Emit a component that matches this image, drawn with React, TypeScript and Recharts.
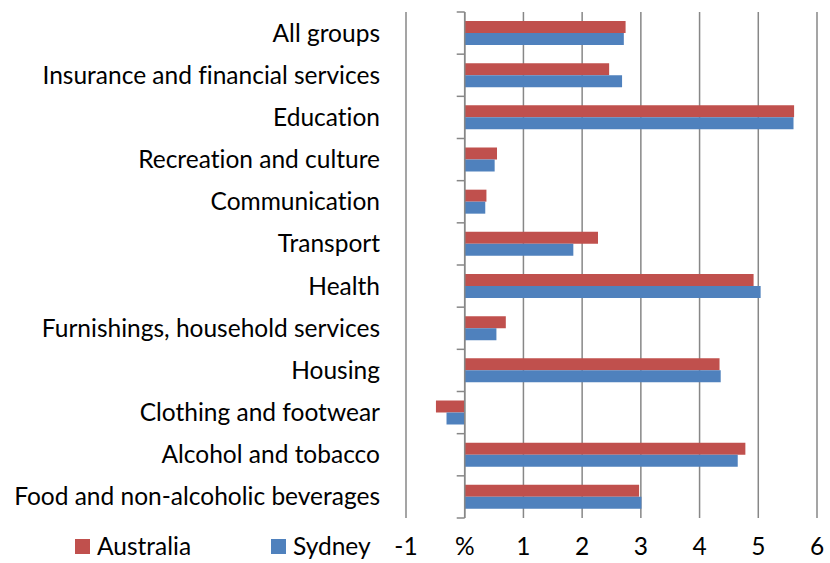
import React from "react";
import {
  BarChart,
  Bar,
  XAxis,
  YAxis,
  CartesianGrid,
  ReferenceLine,
} from "recharts";

const categories = [
  "All groups",
  "Insurance and financial services",
  "Education",
  "Recreation and culture",
  "Communication",
  "Transport",
  "Health",
  "Furnishings, household services",
  "Housing",
  "Clothing and footwear",
  "Alcohol and tobacco",
  "Food and non-alcoholic beverages",
];

const australia = [2.74, 2.46, 5.61, 0.55, 0.37, 2.27, 4.92, 0.7, 4.34, -0.49, 4.78, 2.97];
const sydney = [2.71, 2.68, 5.6, 0.51, 0.35, 1.85, 5.04, 0.54, 4.36, -0.31, 4.65, 3.01];

const xTicks = [-1, 0, 1, 2, 3, 4, 5, 6];

const seriesNames = ["Australia", "Sydney"];

const AUS_COLOR = "#C0504D";
const SYD_COLOR = "#4F81BD";
const GRID = "#878787";
const FONT = "Lato, 'Open Sans', sans-serif";
const FONT_SIZE = 24.5;

const data = categories.map((name, i) => ({
  name,
  australia: australia[i],
  sydney: sydney[i],
}));

// axis at zero with tick marks on the category boundaries
function ZeroAxis(props: any) {
  const { x1, y1, x2, y2 } = props;
  const n = categories.length;
  const step = (y2 - y1) / n;
  const marks = [];
  for (let i = 0; i <= n; i++) {
    const y = y1 + step * i;
    marks.push(
      <line key={i} x1={x1 - 8} x2={x1} y1={y} y2={y} stroke={GRID} strokeWidth={1.5} />
    );
  }
  return (
    <g>
      <line x1={x1} y1={y1} x2={x2} y2={y2} stroke={GRID} strokeWidth={1.5} />
      {marks}
    </g>
  );
}

function CategoryTick(props: any) {
  const { x, y, payload } = props;
  return (
    <text
      x={x}
      y={y}
      dy="0.35em"
      textAnchor="end"
      fontSize={FONT_SIZE}
      fontFamily={FONT}
      fill="#000"
      style={{ fontVariantLigatures: "none" }}
    >
      {payload.value}
    </text>
  );
}

function ChartLegend() {
  const items = [
    { label: seriesNames[0], color: AUS_COLOR, left: 75 },
    { label: seriesNames[1], color: SYD_COLOR, left: 271 },
  ];
  return (
    <>
      {items.map((it) => (
        <div
          key={it.label}
          style={{
            position: "absolute",
            left: it.left,
            top: 532,
            height: 28,
            display: "flex",
            alignItems: "center",
            fontFamily: FONT,
            fontSize: FONT_SIZE,
          }}
        >
          <span style={{ width: 15, height: 15, background: it.color, display: "inline-block", marginRight: 7 }} />
          <span style={{ color: "#000", lineHeight: "28px" }}>{it.label}</span>
        </div>
      ))}
    </>
  );
}

export default function App() {
  return (
    <div style={{ position: "absolute", left: 0, top: 0, width: 830, height: 563, background: "#fff" }}>
      <BarChart
        width={830}
        height={563}
        data={data}
        layout="vertical"
        margin={{ top: 12, right: 13, bottom: 0, left: 0 }}
        barSize={12}
        barGap={0}
      >
        <CartesianGrid horizontal={false} stroke={GRID} strokeWidth={1.5} />
        <XAxis
          type="number"
          domain={[-1, 6]}
          ticks={xTicks}
          interval={0}
          axisLine={false}
          tickLine={false}
          tickSize={0}
          tickMargin={20}
          height={45}
          tickFormatter={(v: number) => (v === 0 ? "%" : String(v))}
          tick={{ fontSize: FONT_SIZE, fill: "#000", fontFamily: FONT }}
        />
        <YAxis
          type="category"
          dataKey="name"
          width={406}
          axisLine={false}
          tickLine={false}
          tickSize={0}
          tickMargin={26}
          interval={0}
          tick={<CategoryTick />}
        />
        <Bar dataKey="australia" name={seriesNames[0]} fill={AUS_COLOR} isAnimationActive={false} />
        <Bar dataKey="sydney" name={seriesNames[1]} fill={SYD_COLOR} isAnimationActive={false} />
        <ReferenceLine x={0} shape={<ZeroAxis />} />
      </BarChart>
      <ChartLegend />
    </div>
  );
}
